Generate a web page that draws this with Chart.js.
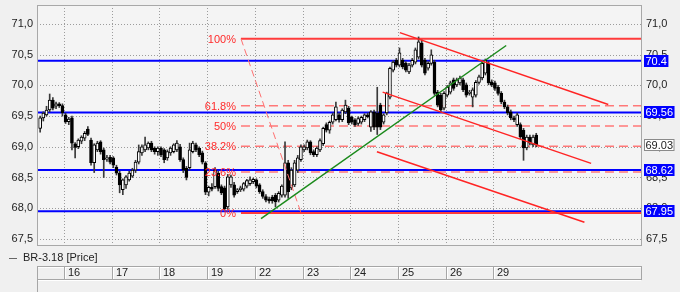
<!DOCTYPE html>
<html lang="en">
<head>
<meta charset="UTF-8">
<title>BR-3.18 [Price]</title>
<script src="https://cdn.jsdelivr.net/npm/chart.js"></script>
<style>
  body { margin: 0; background: #f0f0f0; }
  canvas { display: block; }
</style>
</head>
<body>
<canvas id="priceChart" width="680" height="292"></canvas>
<script>
// trading days shown on the bottom strip
const dayLabels = ['16', '17', '18', '19', '22', '23', '24', '25', '26', '29'];
const candlesPerDay = 15;
const firstDayCandles = 8; // tail of the session before the 16th

// hourly candles, one line per day
const opens = [
  69.30, 69.47, 69.52, 69.60, 69.76, 69.66, 69.70, 69.67,
  69.52, 69.41, 69.47, 69.05, 69.00, 69.09, 69.14, 69.29, 69.11, 68.74, 68.95, 69.08, 68.95, 68.80, 68.83,
  68.82, 68.67, 68.57, 68.30, 68.38, 68.46, 68.52, 68.62, 68.75, 68.90, 68.95, 68.98, 69.06, 68.98, 68.92,
  68.98, 68.95, 68.82, 68.90, 68.92, 68.95, 69.00, 68.79, 68.65, 68.66, 68.92, 69.03, 68.98, 68.90, 68.74,
  68.26, 68.34, 68.35, 68.57, 68.35, 68.33, 68.02, 68.38, 68.38, 68.27, 68.30, 68.31, 68.36, 68.40, 68.43,
  68.46, 68.38, 68.27, 68.19, 68.15, 68.18, 68.21, 68.13, 68.21, 68.21, 68.74, 68.33, 68.38, 68.62, 68.79,
  68.95, 68.98, 69.08, 68.92, 68.87, 68.95, 69.05, 69.36, 69.27, 69.40, 69.44, 69.52, 69.44, 69.57, 69.63,
  69.48, 69.44, 69.38, 69.40, 69.44, 69.52, 69.32, 69.57, 69.55, 69.68, 69.40, 69.55, 69.81, 70.25, 70.41,
  70.33, 70.41, 70.36, 70.22, 70.33, 70.38, 70.46, 70.69, 70.41, 70.28, 70.36, 70.38, 69.89, 69.84, 69.63,
  69.84, 69.89, 70.09, 70.01, 70.04, 70.09, 70.01, 69.87, 69.81, 69.84, 70.05, 70.12, 70.20, 70.36, 70.06,
  70.04, 69.97, 69.87, 69.73, 69.65, 69.57, 69.47, 69.36, 69.36, 69.27, 68.98, 69.16, 69.03, 69.19
];
const highs = [
  69.50, 69.57, 69.66, 69.86, 69.80, 69.73, 69.72, 69.70,
  69.55, 69.48, 69.50, 69.07, 69.13, 69.18, 69.25, 69.33, 69.14, 69.05, 69.09, 69.10, 68.98, 68.86, 68.86,
  68.84, 68.70, 68.60, 68.48, 68.53, 68.60, 68.65, 68.78, 69.03, 69.03, 69.16, 69.08, 69.09, 69.00, 69.00,
  69.00, 68.97, 68.95, 69.00, 69.05, 69.10, 69.04, 68.82, 68.68, 69.06, 69.09, 69.06, 69.00, 68.93, 68.76,
  68.36, 68.40, 68.66, 68.60, 68.38, 68.36, 68.55, 68.54, 68.42, 68.32, 68.36, 68.42, 68.47, 68.51, 68.49,
  68.48, 68.40, 68.30, 68.22, 68.18, 68.21, 68.24, 68.27, 68.38, 69.08, 68.78, 68.66, 68.78, 68.86, 69.03,
  69.03, 69.11, 69.10, 68.95, 69.00, 69.13, 69.32, 69.39, 69.42, 69.55, 69.73, 69.55, 69.62, 69.76, 69.66,
  69.50, 69.46, 69.49, 69.50, 69.54, 69.55, 69.59, 69.60, 69.97, 69.71, 69.54, 69.89, 70.30, 70.40, 70.44,
  70.61, 70.44, 70.39, 70.36, 70.44, 70.61, 70.79, 70.74, 70.44, 70.39, 70.58, 70.41, 69.92, 69.87, 69.90,
  70.00, 70.07, 70.12, 70.12, 70.15, 70.12, 70.04, 69.92, 69.96, 70.08, 70.17, 70.39, 70.43, 70.39, 70.09,
  70.07, 70.00, 69.90, 69.76, 69.68, 69.60, 69.50, 69.55, 69.39, 69.30, 69.19, 69.19, 69.19, 69.22
];
const lows = [
  69.24, 69.42, 69.50, 69.57, 69.60, 69.62, 69.64, 69.50,
  69.38, 69.36, 68.95, 68.82, 68.97, 69.05, 69.10, 69.18, 68.70, 68.58, 68.92, 68.88, 68.50, 68.76, 68.72,
  68.66, 68.54, 68.25, 68.22, 68.32, 68.44, 68.50, 68.58, 68.72, 68.86, 68.92, 68.95, 68.92, 68.88, 68.86,
  68.84, 68.74, 68.78, 68.86, 68.90, 68.92, 68.76, 68.58, 68.46, 68.62, 68.90, 68.92, 68.84, 68.72, 68.22,
  68.20, 68.28, 68.32, 68.28, 68.22, 67.97, 67.98, 68.34, 68.18, 68.24, 68.27, 68.28, 68.33, 68.37, 68.40,
  68.33, 68.24, 68.16, 68.10, 68.08, 68.08, 68.02, 68.10, 68.18, 68.18, 68.16, 68.30, 68.35, 68.58, 68.76,
  68.92, 68.95, 68.87, 68.84, 68.84, 68.92, 69.02, 69.24, 69.22, 69.37, 69.42, 69.40, 69.41, 69.54, 69.36,
  69.37, 69.33, 69.35, 69.37, 69.41, 69.47, 69.25, 69.28, 69.20, 69.28, 69.37, 69.52, 69.78, 70.22, 70.30,
  70.30, 70.27, 70.22, 70.19, 70.30, 70.35, 70.43, 70.30, 70.17, 70.25, 70.33, 69.84, 69.65, 69.57, 69.60,
  69.81, 69.86, 69.92, 69.98, 70.01, 69.90, 69.81, 69.84, 69.65, 69.81, 70.02, 70.09, 70.17, 70.01, 69.98,
  69.92, 69.84, 69.70, 69.62, 69.52, 69.44, 69.41, 69.33, 69.13, 68.78, 68.95, 69.03, 69.00, 69.00
];
const closes = [
  69.47, 69.55, 69.60, 69.76, 69.63, 69.70, 69.67, 69.55,
  69.41, 69.45, 69.06, 68.99, 69.11, 69.16, 69.22, 69.20, 68.74, 69.03, 69.06, 68.92, 68.79, 68.82, 68.75,
  68.70, 68.57, 68.38, 68.46, 68.51, 68.57, 68.62, 68.75, 68.92, 69.00, 69.03, 69.06, 68.95, 68.92, 68.98,
  68.87, 68.79, 68.92, 68.98, 69.03, 69.06, 68.79, 68.62, 68.50, 68.95, 69.06, 68.95, 68.87, 68.75, 68.26,
  68.34, 68.31, 68.62, 68.32, 68.25, 67.99, 68.51, 68.51, 68.21, 68.30, 68.33, 68.40, 68.45, 68.46, 68.47,
  68.36, 68.27, 68.19, 68.13, 68.12, 68.12, 68.10, 68.24, 68.36, 68.74, 68.27, 68.62, 68.74, 68.82, 69.00,
  69.00, 69.08, 68.90, 68.87, 68.98, 69.10, 69.30, 69.27, 69.40, 69.52, 69.65, 69.44, 69.60, 69.68, 69.39,
  69.40, 69.36, 69.46, 69.48, 69.52, 69.49, 69.57, 69.32, 69.32, 69.32, 69.52, 69.87, 70.28, 70.38, 70.33,
  70.53, 70.30, 70.25, 70.33, 70.41, 70.58, 70.71, 70.33, 70.20, 70.36, 70.50, 69.87, 69.68, 69.60, 69.87,
  69.97, 70.04, 69.95, 70.09, 70.12, 69.93, 69.84, 69.89, 69.93, 70.05, 70.14, 70.36, 70.41, 70.04, 70.01,
  69.95, 69.87, 69.73, 69.65, 69.55, 69.47, 69.44, 69.52, 69.16, 68.98, 69.16, 69.06, 69.16, 69.03
];

const yTicks = [67.5, 68.0, 68.5, 69.0, 69.5, 70.0, 70.5, 71.0];
const levelValues = [70.4, 69.56, 68.62, 67.95];
const levelTexts = ['70.4', '69.56', '68.62', '67.95'];
const lastPrice = 69.03;

// fibonacci retracement (x in trading days from the 16th)
const fibStart = 3.71;
const fibValues = [70.76, 69.67, 69.34, 69.01, 68.59, 67.92];
const fibLabels = ['100%', '61.8%', '50%', '38.2%', '23.6%', '0%'];
const fibDiagonal = [[3.71, 70.76], [4.97, 67.92]];

const trendLine = [[4.13, 67.83], [9.27, 70.65]];
const channelLines = [
  [[7.04, 70.86], [11.41, 69.69]],
  [[6.68, 69.89], [11.05, 68.73]],
  [[6.56, 68.92], [10.91, 67.77]]
];

const xMin = -0.566, xMax = 12.096;
const yMin = 67.40, yMax = 71.31;

const candleX = i => (i - firstDayCandles + 0.5) / candlesPerDay;
const pts = arr => arr.map(p => ({ x: p[0], y: p[1] }));

function seg(points, color, width, dash, order) {
  return {
    type: 'line', data: pts(points), borderColor: color, borderWidth: width,
    borderDash: dash || [], pointRadius: 0, tension: 0, order: order
  };
}

const datasets = [];
levelValues.forEach(v => datasets.push(seg([[xMin, v], [xMax, v]], '#0000ff', 2, null, 20)));
fibValues.forEach((v, i) => {
  const solid = i === 0 || i === fibValues.length - 1;
  datasets.push(seg([[fibStart, v], [xMax, v]], solid ? '#ff3b3b' : '#ff7878', solid ? 2 : 1.5, solid ? null : [9, 5], 19));
});

datasets.push({
  type: 'bar', grouped: false, barThickness: 1, order: 9,
  data: highs.map((h, i) => ({ x: candleX(i), y: [lows[i], h] })),
  backgroundColor: '#3a3a3a'
});
datasets.push({
  type: 'bar', grouped: false, barThickness: 3, order: 8,
  data: opens.map((o, i) => ({ x: candleX(i), y: [o, closes[i]] })),
  backgroundColor: opens.map((o, i) => closes[i] >= o ? '#ffffff' : '#000000'),
  borderColor: '#000000', borderWidth: 1, borderSkipped: false
});

datasets.push(seg(fibDiagonal, '#ff7070', 1, [7, 4], 3));
datasets.push(seg(trendLine, '#1b8a1b', 1.5, null, 2));
channelLines.forEach(l => datasets.push(seg(l, '#ff2424', 1.5, null, 1)));

function hline(ctx, x1, x2, y) { ctx.beginPath(); ctx.moveTo(x1, y); ctx.lineTo(x2, y); ctx.stroke(); }
function vline(ctx, x, y1, y2) { ctx.beginPath(); ctx.moveTo(x, y1); ctx.lineTo(x, y2); ctx.stroke(); }

const decor = {
  id: 'decor',
  beforeDraw(chart) {
    const { ctx, chartArea: a, scales } = chart;
    ctx.save();
    ctx.fillStyle = '#f4f4f4';
    ctx.fillRect(a.left, a.top, a.right - a.left, a.bottom - a.top);
    ctx.strokeStyle = '#9c9c9c';
    ctx.lineWidth = 1;
    ctx.setLineDash([1, 2]);
    yTicks.forEach(v => hline(ctx, a.left, a.right, Math.round(scales.y.getPixelForValue(v)) + 0.5));
    dayLabels.forEach((d, i) => vline(ctx, Math.round(scales.x.getPixelForValue(i)) + 0.5, a.top, a.bottom));
    ctx.restore();
  },
  afterDatasetsDraw(chart) {
    const { ctx, scales } = chart;
    ctx.save();
    ctx.font = '11px "Liberation Sans", Arial, sans-serif';
    ctx.fillStyle = '#ff2a2a';
    ctx.textAlign = 'right';
    ctx.textBaseline = 'middle';
    const fx = scales.x.getPixelForValue(fibStart) - 5;
    fibValues.forEach((v, i) => ctx.fillText(fibLabels[i], fx, scales.y.getPixelForValue(v) + 1));
    ctx.restore();
  },
  afterDraw(chart) {
    const { ctx, chartArea: a, scales } = chart;
    ctx.save();
    ctx.lineWidth = 1;
    ctx.strokeStyle = '#a8a8a8';
    ctx.strokeRect(a.left + 0.5, a.top + 0.5, a.right - a.left, a.bottom - a.top);

    // price boxes on the right axis
    ctx.font = '11px "Liberation Sans", Arial, sans-serif';
    ctx.textBaseline = 'middle';
    ctx.textAlign = 'left';
    levelValues.forEach((v, i) => {
      const y = Math.round(scales.y.getPixelForValue(v));
      const w = ctx.measureText(levelTexts[i]).width + 3;
      ctx.fillStyle = '#0000ff';
      ctx.fillRect(a.right + 3, y - 6, w, 12);
      ctx.fillStyle = '#ffffff';
      ctx.fillText(levelTexts[i], a.right + 4.5, y + 0.5);
    });
    const ly = Math.round(scales.y.getPixelForValue(lastPrice));
    const lt = lastPrice.toFixed(2);
    const lw = ctx.measureText(lt).width + 3;
    ctx.fillStyle = '#ffffff';
    ctx.fillRect(a.right + 3, ly - 6, lw, 12);
    ctx.strokeStyle = '#8a8a8a';
    ctx.strokeRect(a.right + 3.5, ly - 5.5, lw - 1, 11);
    ctx.fillStyle = '#222222';
    ctx.fillText(lt, a.right + 4.5, ly + 0.5);

    // series caption
    ctx.strokeStyle = '#666666';
    hline(ctx, 9, 17, 258.5);
    ctx.fillStyle = '#222222';
    ctx.fillText('BR-3.18 [Price]', 23, 258);

    // date strip
    const top = 266, mid = 279, bottom = 292;
    ctx.strokeStyle = '#a6a6a6';
    hline(ctx, a.left, a.right + 1, top + 0.5);
    hline(ctx, a.left, a.right + 1, mid + 0.5);
    vline(ctx, a.left + 0.5, top, bottom);
    vline(ctx, a.right + 0.5, top, mid);
    ctx.strokeStyle = '#ffffff';
    hline(ctx, a.left + 1, a.right, top + 1.5);
    hline(ctx, a.left + 1, a.right, mid + 1.5);
    dayLabels.forEach((d, i) => {
      const x = Math.round(scales.x.getPixelForValue(i));
      ctx.strokeStyle = '#a6a6a6';
      vline(ctx, x + 0.5, top, mid);
      ctx.strokeStyle = '#ffffff';
      vline(ctx, x + 1.5, top + 1, mid);
      ctx.fillStyle = '#222222';
      ctx.fillText(d, x + 4, top + 7);
    });
    ctx.restore();
  }
};

Chart.defaults.font.family = '"Liberation Sans", Arial, sans-serif';

const yAxis = (pos, width, pad) => ({
  position: pos, min: yMin, max: yMax,
  afterBuildTicks: s => { s.ticks = yTicks.map(v => ({ value: v })); },
  afterFit: s => { s.width = width; s.paddingTop = 0; s.paddingBottom = 0; },
  grid: { display: false, drawTicks: false },
  border: { display: false },
  ticks: { color: '#222222', font: { size: 11 }, padding: pad, callback: v => v.toFixed(1).replace('.', ',') }
});

new Chart(document.getElementById('priceChart'), {
  type: 'bar',
  data: { datasets: datasets },
  options: {
    responsive: false,
    animation: false,
    layout: { padding: { top: 5, bottom: 47, left: 0, right: 0 } },
    plugins: { legend: { display: false }, tooltip: { enabled: false } },
    scales: {
      x: { type: 'linear', min: xMin, max: xMax, offset: false, display: false },
      y: yAxis('left', 37, 4),
      y2: yAxis('right', 39, 5)
    }
  },
  plugins: [decor]
});
</script>
</body>
</html>
